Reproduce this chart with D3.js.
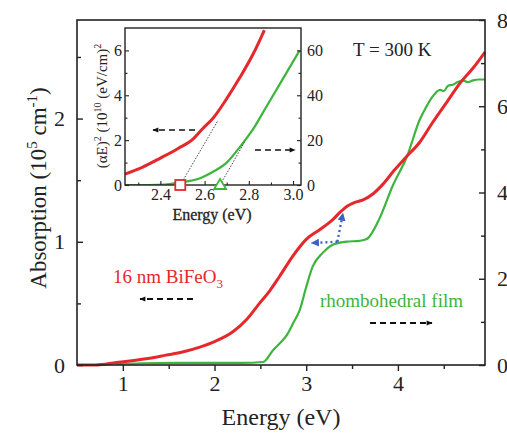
<!DOCTYPE html>
<html>
<head>
<meta charset="utf-8">
<script src="https://cdn.jsdelivr.net/npm/d3@7"></script>
<style>
  body { margin: 0; background: #fff; }
  svg text { font-family: "Liberation Serif", "Times New Roman", Tinos, "DejaVu Serif", serif; }
</style>
</head>
<body>
<svg id="chart"></svg>
<script>
// main panel: absorption (left axis, red) and rhombohedral film (right axis, green)
const redEnergy = [0.5, 0.7, 0.93, 1.1, 1.29, 1.47, 1.65, 1.84, 2.0, 2.2, 2.35, 2.49, 2.6, 2.71, 2.85, 3.0, 3.15, 3.29, 3.37, 3.45, 3.53, 3.62, 3.73, 3.84, 3.96, 4.08, 4.24, 4.38, 4.53, 4.68, 4.82, 4.95];
const redAbs = [0.0, 0.0, 0.02, 0.035, 0.055, 0.08, 0.105, 0.145, 0.19, 0.27, 0.37, 0.5, 0.6, 0.72, 0.88, 1.02, 1.1, 1.18, 1.24, 1.29, 1.32, 1.34, 1.39, 1.47, 1.58, 1.68, 1.81, 1.97, 2.13, 2.29, 2.41, 2.54];

const greenEnergy = [0.93, 1.2, 1.6, 2.0, 2.3, 2.53, 2.64, 2.72, 2.79, 2.86, 2.93, 3.0, 3.07, 3.18, 3.29, 3.44, 3.58, 3.66, 3.8, 3.94, 4.1, 4.24, 4.3, 4.38, 4.46, 4.5, 4.55, 4.6, 4.65, 4.71, 4.76, 4.82, 4.88, 4.95];
const greenAbs = [0.02, 0.04, 0.05, 0.05, 0.05, 0.07, 0.35, 0.52, 0.7, 0.98, 1.28, 1.81, 2.28, 2.6, 2.79, 2.86, 2.88, 2.92, 3.4, 4.14, 4.84, 5.7, 5.95, 6.23, 6.38, 6.35, 6.48, 6.5, 6.56, 6.6, 6.56, 6.6, 6.62, 6.62];

// inset: (alpha E)^2
const insetRedEnergy = [2.24, 2.32, 2.4, 2.48, 2.55, 2.59, 2.64, 2.7, 2.76, 2.82, 2.87];
const insetRedVal = [0.49, 0.8, 1.2, 1.63, 2.07, 2.5, 3.0, 3.85, 4.8, 5.85, 6.9];
const insetGreenEnergy = [2.24, 2.35, 2.42, 2.48, 2.58, 2.64, 2.7, 2.76, 2.82, 2.88, 2.94, 3.0, 3.03];
const insetGreenVal = [0, 0, 0.2, 1, 3, 6, 10, 17, 25, 35, 45, 55, 60];

const redTangent = [[2.49, 0], [2.66, 2.87]];
const greenTangent = [[2.67, 0], [2.78, 19]];
const redGap = 2.49;
const greenGap = 2.67;

const xTicks = [1, 2, 3, 4];
const xMinor = [1.5, 2.5, 3.5, 4.5];
const leftTicks = [0, 1, 2];
const leftMinor = [0.5, 1.5, 2.5];
const rightTicks = [0, 2, 4, 6, 8];
const rightMinor = [1, 3, 5, 7];
const insetXTicks = [2.4, 2.6, 2.8, 3.0];
const insetXMinor = [2.3, 2.5, 2.7, 2.9];
const insetLeftTicks = [0, 2, 4, 6];
const insetLeftMinor = [1, 3, 5];
const insetRightTicks = [0, 20, 40, 60];
const insetRightMinor = [10, 30, 50];

const RED = "#e5282c";
const GREEN = "#3db53d";
const FONT = "'Liberation Serif', 'Times New Roman', Tinos, 'DejaVu Serif', serif";

const width = 507, height = 434;
const svg = d3.select("#chart").attr("width", width).attr("height", height);

const mL = 77, mR = 485, mT = 20, mB = 365;
const x = d3.scaleLinear().domain([0.5, 4.95]).range([mL, mR]);
const yL = d3.scaleLinear().domain([0, 2.8]).range([mB, mT]);
const yR = d3.scaleLinear().domain([0, 8]).range([mB, mT]);

// curves
const redLine = d3.line().x(d => x(d[0])).y(d => yL(d[1])).curve(d3.curveMonotoneX);
const greenLine = d3.line().x(d => x(d[0])).y(d => yR(d[1])).curve(d3.curveMonotoneX);

svg.append("path")
  .attr("d", greenLine(greenEnergy.map((e, i) => [e, greenAbs[i]])))
  .attr("fill", "none").attr("stroke", GREEN).attr("stroke-width", 2.2);
svg.append("path")
  .attr("d", redLine(redEnergy.map((e, i) => [e, redAbs[i]])))
  .attr("fill", "none").attr("stroke", RED).attr("stroke-width", 3);

// frame
svg.append("rect")
  .attr("x", mL).attr("y", mT).attr("width", mR - mL).attr("height", mB - mT)
  .attr("fill", "none").attr("stroke", "#222").attr("stroke-width", 1.6);

// axes
const gx = svg.append("g").attr("transform", `translate(0,${mB})`)
  .call(d3.axisBottom(x).tickValues(xTicks).tickFormat(d3.format("d")).tickSizeOuter(0).tickSize(6).tickPadding(4));
svg.append("g").attr("transform", `translate(0,${mB})`)
  .call(d3.axisBottom(x).tickValues(xMinor).tickFormat("").tickSizeOuter(0).tickSize(4));

const gl = svg.append("g").attr("transform", `translate(${mL},0)`)
  .call(d3.axisLeft(yL).tickValues(leftTicks).tickFormat(d3.format("d")).tickSizeOuter(0).tickSizeInner(-6).tickPadding(12));
svg.append("g").attr("transform", `translate(${mL},0)`)
  .call(d3.axisLeft(yL).tickValues(leftMinor).tickFormat("").tickSizeOuter(0).tickSizeInner(-4));

const gr = svg.append("g").attr("transform", `translate(${mR},0)`)
  .call(d3.axisRight(yR).tickValues(rightTicks).tickFormat(d3.format("d")).tickSizeOuter(0).tickSizeInner(-6).tickPadding(12));
svg.append("g").attr("transform", `translate(${mR},0)`)
  .call(d3.axisRight(yR).tickValues(rightMinor).tickFormat("").tickSizeOuter(0).tickSizeInner(-4));

svg.selectAll(".domain").remove();
svg.selectAll(".tick line").attr("stroke", "#222").attr("stroke-width", 1.4);
[gx, gl, gr].forEach(g => g.selectAll("text")
  .style("font-family", FONT).attr("font-size", 22).attr("fill", "#222"));

// axis titles
svg.append("text")
  .attr("x", 281).attr("y", 425).attr("text-anchor", "middle")
  .attr("font-size", 24).attr("fill", "#222")
  .text("Energy (eV)");

const yTitle = svg.append("text")
  .attr("transform", "translate(46,188) rotate(-90)")
  .attr("text-anchor", "middle").attr("font-size", 23).attr("fill", "#222");
yTitle.append("tspan").text("Absorption (10");
yTitle.append("tspan").attr("font-size", 15).attr("dy", -9).text("5");
yTitle.append("tspan").attr("dy", 9).text(" cm");
yTitle.append("tspan").attr("font-size", 15).attr("dy", -9).text("-1");
yTitle.append("tspan").attr("dy", 9).text(")");

// labels
svg.append("text").attr("x", 353).attr("y", 56).attr("font-size", 19).attr("fill", "#222").text("T = 300 K");

const bfo = svg.append("text").attr("x", 113).attr("y", 283).attr("font-size", 19).attr("fill", RED);
bfo.append("tspan").text("16 nm BiFeO");
bfo.append("tspan").attr("font-size", 13).attr("dy", 5).text("3");

svg.append("text").attr("x", 320).attr("y", 307).attr("font-size", 19).attr("fill", GREEN).text("rhombohedral film");

// arrowheads
const defs = svg.append("defs");
defs.append("marker").attr("id", "ah").attr("viewBox", "0 0 10 10")
  .attr("refX", 9).attr("refY", 5).attr("markerWidth", 8).attr("markerHeight", 6)
  .attr("markerUnits", "userSpaceOnUse").attr("orient", "auto")
  .append("path").attr("d", "M0,1 L10,5 L0,9 Z").attr("fill", "#111");
defs.append("marker").attr("id", "bh").attr("viewBox", "0 0 10 10")
  .attr("refX", 9).attr("refY", 5).attr("markerWidth", 8).attr("markerHeight", 8)
  .attr("markerUnits", "userSpaceOnUse").attr("orient", "auto")
  .append("path").attr("d", "M0,0 L10,5 L0,10 Z").attr("fill", "#3d5fc4");

function arrow(x1, y1, x2, y2, w) {
  svg.append("line").attr("x1", x1).attr("y1", y1).attr("x2", x2).attr("y2", y2)
    .attr("stroke", "#111").attr("stroke-width", w || 1.8)
    .attr("stroke-dasharray", "6,4").attr("marker-end", "url(#ah)");
}
arrow(193, 299, 140, 299);
arrow(370, 323, 432, 323);

// blue dotted arrows
const cx = x(3.34), cy = yL(1.0);
svg.append("line").attr("x1", cx).attr("y1", cy).attr("x2", x(3.4)).attr("y2", yL(1.23))
  .attr("stroke", "#3d5fc4").attr("stroke-width", 2.4).attr("stroke-dasharray", "2,3").attr("marker-end", "url(#bh)");
svg.append("line").attr("x1", cx).attr("y1", cy).attr("x2", x(3.06)).attr("y2", yL(0.99))
  .attr("stroke", "#3d5fc4").attr("stroke-width", 2.4).attr("stroke-dasharray", "2,3").attr("marker-end", "url(#bh)");

// ---- inset ----
const iL = 125, iR = 301, iT = 28, iB = 185;
const ix = d3.scaleLinear().domain([2.24, 3.036]).range([iL, iR]);
const iyL = d3.scaleLinear().domain([0, 7]).range([iB, iT]);
const iyR = d3.scaleLinear().domain([0, 70]).range([iB, iT]);

const inset = svg.append("g");
inset.append("rect").attr("x", iL).attr("y", iT).attr("width", iR - iL).attr("height", iB - iT)
  .attr("fill", "#fff");
const clip = defs.append("clipPath").attr("id", "iclip");
clip.append("rect").attr("x", iL).attr("y", iT).attr("width", iR - iL).attr("height", iB - iT);

const ic = inset.append("g").attr("clip-path", "url(#iclip)");
ic.append("path")
  .attr("d", d3.line().x(d => ix(d[0])).y(d => iyL(d[1])).curve(d3.curveMonotoneX)(insetRedEnergy.map((e, i) => [e, insetRedVal[i]])))
  .attr("fill", "none").attr("stroke", RED).attr("stroke-width", 3);
ic.append("path")
  .attr("d", d3.line().x(d => ix(d[0])).y(d => iyR(d[1])).curve(d3.curveMonotoneX)(insetGreenEnergy.map((e, i) => [e, insetGreenVal[i]])))
  .attr("fill", "none").attr("stroke", GREEN).attr("stroke-width", 2.2);
ic.append("line")
  .attr("x1", ix(redTangent[0][0])).attr("y1", iyL(redTangent[0][1]))
  .attr("x2", ix(redTangent[1][0])).attr("y2", iyL(redTangent[1][1]))
  .attr("stroke", "#333").attr("stroke-width", 0.9).attr("stroke-dasharray", "1.5,1.5");
ic.append("line")
  .attr("x1", ix(greenTangent[0][0])).attr("y1", iyR(greenTangent[0][1]))
  .attr("x2", ix(greenTangent[1][0])).attr("y2", iyR(greenTangent[1][1]))
  .attr("stroke", "#333").attr("stroke-width", 0.9).attr("stroke-dasharray", "1.5,1.5");

inset.append("rect").attr("x", iL).attr("y", iT).attr("width", iR - iL).attr("height", iB - iT)
  .attr("fill", "none").attr("stroke", "#222").attr("stroke-width", 1.4);

const ixAx = inset.append("g").attr("transform", `translate(0,${iB})`)
  .call(d3.axisBottom(ix).tickValues(insetXTicks).tickFormat(d3.format(".1f")).tickSizeOuter(0).tickSizeInner(-4).tickPadding(4));
inset.append("g").attr("transform", `translate(0,${iB})`)
  .call(d3.axisBottom(ix).tickValues(insetXMinor).tickFormat("").tickSizeOuter(0).tickSizeInner(-2.5));
const iyAx = inset.append("g").attr("transform", `translate(${iL},0)`)
  .call(d3.axisLeft(iyL).tickValues(insetLeftTicks).tickFormat(d3.format("d")).tickSizeOuter(0).tickSizeInner(-4).tickPadding(3));
inset.append("g").attr("transform", `translate(${iL},0)`)
  .call(d3.axisLeft(iyL).tickValues(insetLeftMinor).tickFormat("").tickSizeOuter(0).tickSizeInner(-2.5));
const iyrAx = inset.append("g").attr("transform", `translate(${iR},0)`)
  .call(d3.axisRight(iyR).tickValues(insetRightTicks).tickFormat(d3.format("d")).tickSizeOuter(0).tickSizeInner(-4).tickPadding(6));
inset.append("g").attr("transform", `translate(${iR},0)`)
  .call(d3.axisRight(iyR).tickValues(insetRightMinor).tickFormat("").tickSizeOuter(0).tickSizeInner(-2.5));
inset.selectAll(".domain").remove();
inset.selectAll(".tick line").attr("stroke", "#222").attr("stroke-width", 1.1);
[ixAx, iyAx, iyrAx].forEach(g => g.selectAll("text")
  .style("font-family", FONT).attr("font-size", 16).attr("fill", "#222"));

// gap markers
inset.append("rect").attr("x", ix(redGap) - 5).attr("y", iB - 5).attr("width", 10).attr("height", 10)
  .attr("fill", "#fff").attr("stroke", RED).attr("stroke-width", 1.8);
inset.append("path")
  .attr("d", `M${ix(greenGap) - 6},${iB + 4} L${ix(greenGap) + 6},${iB + 4} L${ix(greenGap)},${iB - 6} Z`)
  .attr("fill", "#fff").attr("stroke", GREEN).attr("stroke-width", 1.8);

// inset arrows
arrow(195, 130, 153, 130, 1.5);
arrow(255, 150, 295, 150, 1.5);

// inset titles
inset.append("text").attr("x", 212).attr("y", 220).attr("text-anchor", "middle")
  .attr("font-size", 16).attr("fill", "#222").attr("stroke", "#222").attr("stroke-width", 0.3)
  .text("Energy (eV)");
const iyt = inset.append("text").attr("transform", "translate(107,106) rotate(-90)")
  .attr("text-anchor", "middle").attr("font-size", 15).attr("fill", "#222");
iyt.append("tspan").text("(αE)");
iyt.append("tspan").attr("font-size", 10).attr("dy", -6).text("2");
iyt.append("tspan").attr("dy", 6).text(" (10");
iyt.append("tspan").attr("font-size", 10).attr("dy", -6).text("10");
iyt.append("tspan").attr("dy", 6).text(" (eV/cm)");
iyt.append("tspan").attr("font-size", 10).attr("dy", -6).text("2");
</script>
</body>
</html>
